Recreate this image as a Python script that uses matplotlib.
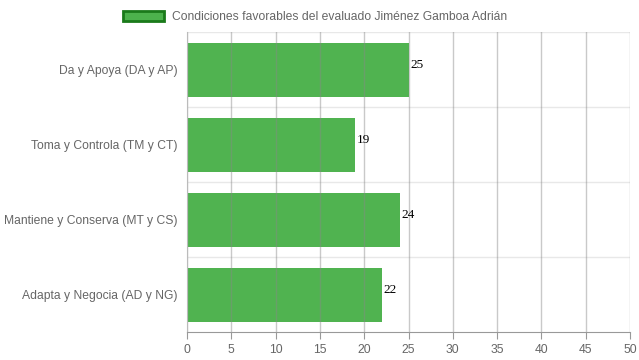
import matplotlib
matplotlib.use("Agg")
import matplotlib.pyplot as plt
from matplotlib.patches import Patch

categories = ["Da y Apoya (DA y AP)", "Toma y Controla (TM y CT)",
              "Mantiene y Conserva (MT y CS)", "Adapta y Negocia (AD y NG)"]
values = [25, 19, 24, 22]
series_name = "Condiciones favorables del evaluado Jiménez Gamboa Adrián"
xticks = list(range(0, 51, 5))

fig = plt.figure(figsize=(6.39, 3.6), dpi=100)
ax = fig.add_axes([187/639, 1-332/360, (630-187)/639, 300/360])

ypos = list(range(len(categories)))
ax.barh(ypos, values, height=0.72, color="#4cb24c", alpha=0.98, zorder=1)
ax.set_ylim(len(categories)-0.5, -0.5)
ax.set_xlim(0, 50)
ax.set_xticks(xticks)
ax.set_yticks(ypos)
ax.set_yticklabels(categories)

for x in xticks:
    ax.axvline(x, color="#888888", alpha=0.45, lw=1, zorder=2)
for b in [-0.5, 0.5, 1.5, 2.5]:
    ax.axhline(b, color="#e8e8e8", lw=1, zorder=0)

for y, v in zip(ypos, values):
    ax.text(v + 0.2, y + 0.02, str(v), va="bottom", ha="left", fontsize=9.5,
            family="Liberation Serif", color="black")

for s in ["top", "right"]:
    ax.spines[s].set_visible(False)
ax.spines["left"].set_color("#bbbbbb")
ax.spines["bottom"].set_color("#999999")
ax.tick_params(axis="both", colors="#666666", labelsize=8.7, length=5)
ax.tick_params(axis="x", colors="#999999", labelcolor="#666666")
ax.tick_params(axis="y", length=0, pad=7)
for lbl in ax.get_xticklabels() + ax.get_yticklabels():
    lbl.set_family("Liberation Sans")

handle = Patch(facecolor="#4cb24c", edgecolor="#1a7a1a", lw=2)
fig.legend([handle], [series_name], loc="upper center", bbox_to_anchor=(0.493, 1.0),
           frameon=False, handlelength=3.4, handleheight=0.9, handletextpad=0.6,
           prop={"family": "Liberation Sans", "size": 8.7}, labelcolor="#666666")

fig.savefig("out.png", dpi=100)
